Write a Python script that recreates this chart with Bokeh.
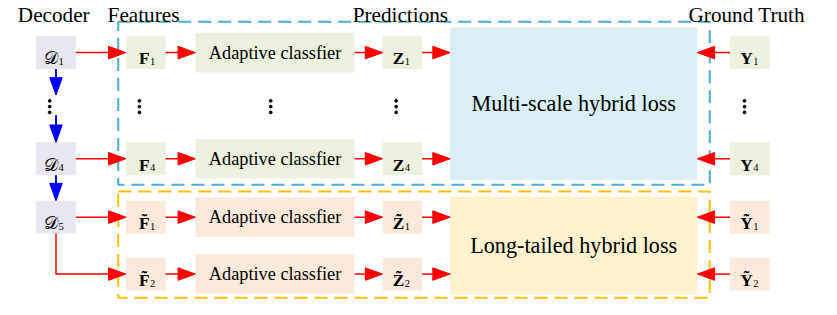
from bokeh.plotting import figure
from bokeh.models import Range1d
from bokeh.core.properties import value
from bokeh.embed import file_html
from bokeh.resources import INLINE

# ---------------- content ----------------
headers = ["Decoder", "Features", "Predictions", "Ground Truth"]
decoder_subs = ["1", "4", "5"]
feature_names = ["F", "F", "F\u0303", "F\u0303"]
pred_names = ["Z", "Z", "Z\u0303", "Z\u0303"]
gt_names = ["Y", "Y", "Y\u0303", "Y\u0303"]
row_subs = ["1", "4", "1", "2"]
classifier_label = "Adaptive classfier"
loss_labels = ["Multi-scale hybrid loss", "Long-tailed hybrid loss"]
decoder_symbol = "\U0001D49F"

# ---------------- layout (reference pixel space) ----------------
REF_W, REF_H = 837, 315
PW, PH = 821, 299
S = 0.965
Y0 = 2.0
X0 = -7.0
xspan = PW / S
yspan = PH / S

FONT = "Liberation Serif"
rows_y = [56, 166, 226.5, 285.5]
cols = {"D": (30, 71), "F": (123, 164), "AC": (195, 360), "Z": (389, 430), "Y": (749, 790)}
HH = 17
HH_AC = 20.5
loss_boxes = [(459, 715, 30, 188), (459, 715, 205, 307)]
dash_boxes = [(115, 728, 24, 193), (115, 728, 200, 310)]

GREEN = "#EBF1DE"
PEACH = "#FBE9DC"
LAV = "#E8E6EF"
LOSS_FILL = ["#DAEEF3", "#FFF2CC"]
DASH_COL = ["#4BACC6", "#FFC000"]
RED = "#FF0000"
BLUE = "#0000FF"
row_fill = [GREEN, GREEN, PEACH, PEACH]

p = figure(width=PW, height=PH, output_backend="svg", toolbar_location=None,
           x_range=Range1d(X0, X0 + xspan), y_range=Range1d(Y0 + yspan, Y0),
           min_border=0, background_fill_color="white")
p.axis.visible = False
p.grid.visible = False
p.outline_line_color = None


def fs(px):
    return value(f"{px * S:.1f}px")


# loss boxes
for (l, r, t, b), c in zip(loss_boxes, LOSS_FILL):
    p.quad(left=[l], right=[r], top=[t], bottom=[b], fill_color=c, line_color=None)

# dashed group boxes
for (l, r, t, b), c in zip(dash_boxes, DASH_COL):
    p.quad(left=[l], right=[r], top=[t], bottom=[b], fill_alpha=0, line_color=c,
           line_width=2, line_dash="13 7")


# small boxes
def boxes(col, ys, fills, hh=HH):
    l, r = cols[col]
    p.quad(left=[l] * len(ys), right=[r] * len(ys), top=[y - hh for y in ys],
           bottom=[y + hh for y in ys], fill_color=fills, line_color=None)


dec_rows = rows_y[:3]
boxes("D", dec_rows, [LAV] * 3)
boxes("F", rows_y, row_fill)
boxes("AC", rows_y, row_fill, HH_AC)
boxes("Z", rows_y, row_fill)
boxes("Y", rows_y, row_fill)


def cx(col):
    l, r = cols[col]
    return (l + r) / 2


def sym_labels(col, ys, names, subs, shift=3, bold=True, big=18):
    c = cx(col)
    p.text(x=[c + shift] * len(ys), y=[y + 6 for y in ys], text=names,
           text_font=value(FONT), text_font_size=fs(big),
           text_font_style="bold" if bold else "normal",
           text_align="right", text_baseline="alphabetic", text_color="black")
    p.text(x=[c + shift + 0.5] * len(ys), y=[y + 9.5 for y in ys], text=subs,
           text_font=value(FONT), text_font_size=fs(11),
           text_align="left", text_baseline="alphabetic", text_color="black")


sym_labels("D", dec_rows, [decoder_symbol] * 3, decoder_subs, shift=2, bold=False, big=19)
sym_labels("F", rows_y, feature_names, row_subs, shift=4)
sym_labels("Z", rows_y, pred_names, row_subs, shift=2)
sym_labels("Y", rows_y, gt_names, row_subs, shift=3)

p.text(x=[cx("AC")] * 4, y=rows_y, text=[classifier_label] * 4,
       text_font=value(FONT), text_font_size=fs(19), text_align="center",
       text_baseline="middle", text_color="black")

for (l, r, t, b), lab in zip(loss_boxes, loss_labels):
    p.text(x=[(l + r) / 2], y=[(t + b) / 2], text=[lab], text_font=value(FONT),
           text_font_size=fs(23), text_align="center", text_baseline="middle",
           text_color="black")

# headers
header_x = [11, 104, 358, 706]
p.text(x=header_x, y=[17] * 4, text=headers, text_font=value(FONT),
       text_font_size=fs(22), text_align="left", text_baseline="alphabetic",
       text_color="black")

# vertical ellipses
dot_x = [44, 137, 273, 403, 764]
dot_y = [106, 112, 118]
p.scatter(x=[x for x in dot_x for _ in dot_y], y=[y for _ in dot_x for y in dot_y],
          size=2.8, color="black")

# arrows
HEAD_L, HEAD_W = 18, 6.5


def arrows(segs, color, lw):
    xs, ys, tx, ty = [], [], [], []
    for pts in segs:
        (ax, ay), (bx, by) = pts[-2], pts[-1]
        dx, dy = bx - ax, by - ay
        n = (dx * dx + dy * dy) ** 0.5
        ux, uy = dx / n, dy / n
        baseX, baseY = bx - ux * HEAD_L, by - uy * HEAD_L
        line = list(pts[:-1]) + [(baseX, baseY)]
        xs.append([q[0] for q in line])
        ys.append([q[1] for q in line])
        tx.append([bx, baseX - uy * HEAD_W, baseX + uy * HEAD_W])
        ty.append([by, baseY + ux * HEAD_W, baseY - ux * HEAD_W])
    p.multi_line(xs=xs, ys=ys, line_color=color, line_width=lw)
    p.patches(xs=tx, ys=ty, fill_color=color, line_color=color, line_width=1)


red = []
for y in dec_rows:
    red.append([(cols["D"][1], y), (cols["F"][0], y)])
red.append([(cx("D"), rows_y[2] + HH), (cx("D"), rows_y[3]), (cols["F"][0], rows_y[3])])
for y in rows_y:
    red.append([(cols["F"][1], y), (cols["AC"][0], y)])
    red.append([(cols["AC"][1], y), (cols["Z"][0], y)])
    red.append([(cols["Z"][1], y), (loss_boxes[0][0], y)])
    red.append([(cols["Y"][0], y), (loss_boxes[0][1], y)])
arrows(red, RED, 1.5)

blue = [[(cx("D"), rows_y[0] + HH), (cx("D"), 100)],
        [(cx("D"), 121), (cx("D"), rows_y[1] - HH)],
        [(cx("D"), rows_y[1] + HH), (cx("D"), rows_y[2] - HH)]]
arrows(blue, BLUE, 2)

open("out.html", "w").write(file_html(p, INLINE))
